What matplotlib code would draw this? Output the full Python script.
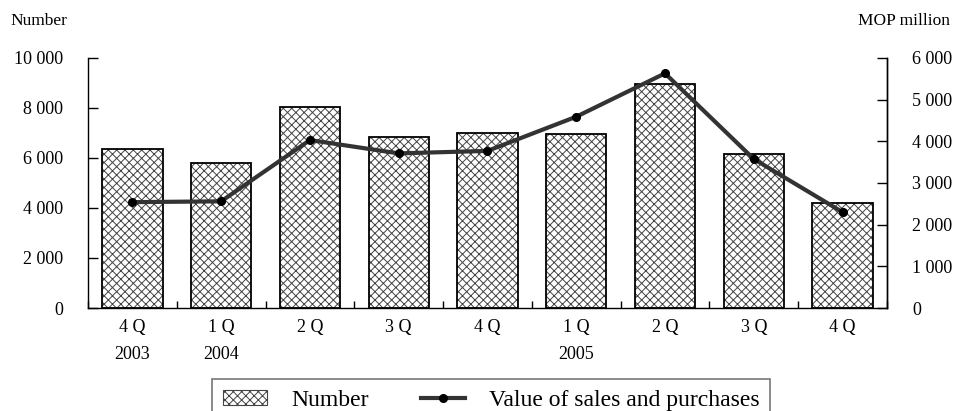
import matplotlib.pyplot as plt
import numpy as np
from matplotlib.patches import Patch
from matplotlib.lines import Line2D

plt.rcParams["font.family"] = ["Liberation Serif", "DejaVu Serif"]
plt.rcParams["hatch.linewidth"] = 0.7

quarters = ["4 Q\n2003", "1 Q\n2004", "2 Q", "3 Q", "4 Q", "1 Q\n2005", "2 Q", "3 Q", "4 Q"]
number = [6350, 5800, 8050, 6850, 7000, 6950, 8950, 6150, 4200]
value_mop = [2540, 2560, 4030, 3710, 3770, 4590, 5630, 3575, 2300]

fig = plt.figure(figsize=(9.63, 4.11), dpi=100)
ax = fig.add_axes([0.0914, 0.2506, 0.8296, 0.6084])
ax2 = ax.twinx()

x = np.arange(len(quarters))

# bars: hatch in grey, outline in black
ax.bar(x, number, width=0.68, color="white", edgecolor="#444444", hatch="xxxx", linewidth=0, zorder=2)
ax.bar(x, number, width=0.68, fill=False, edgecolor="black", linewidth=1.3, zorder=3)

ax2.plot(x, value_mop, color="#333333", linewidth=3, marker="o", markersize=5.5,
         markerfacecolor="black", markeredgecolor="black", zorder=4)

ax.set_xlim(-0.5, len(quarters) - 0.5)
ax.set_ylim(0, 10000)
ax2.set_ylim(0, 6000)

fmt = lambda v: f"{int(v):,}".replace(",", " ")
ax.set_yticks(range(0, 10001, 2000))
ax.set_yticklabels([fmt(v) for v in range(0, 10001, 2000)])
ax2.set_yticks(range(0, 6001, 1000))
ax2.set_yticklabels([fmt(v) for v in range(0, 6001, 1000)])

ax.set_xticks(x)
ax.set_xticklabels(quarters, fontsize=13, linespacing=1.75, va="top")
ax.set_xticks(np.arange(-0.5, len(quarters)), minor=True)
ax.tick_params(axis="x", which="major", length=0, pad=8)
ax.tick_params(axis="x", which="minor", direction="in", length=5, width=1)
ax.tick_params(axis="y", direction="in", length=7, width=1, labelsize=13, pad=18)
ax2.tick_params(axis="y", direction="in", length=7, width=1, labelsize=13, pad=18)

for a in (ax, ax2):
    a.spines["top"].set_visible(False)
    for s in ("left", "right", "bottom"):
        a.spines[s].set_linewidth(1)
ax2.spines["left"].set_visible(False)
ax2.spines["bottom"].set_visible(False)

fig.text(0.011, 0.95, "Number", fontsize=12.5, va="center", ha="left")
fig.text(0.987, 0.95, "MOP million", fontsize=12.5, va="center", ha="right")

handles = [
    Patch(facecolor="white", edgecolor="#444444", hatch="xxxx", linewidth=0.8),
    Line2D([], [], color="#333333", linewidth=3, marker="o", markersize=5.5,
           markerfacecolor="black", markeredgecolor="black"),
]
leg = fig.legend(handles, ["Number", "Value of sales and purchases"], loc="upper center",
                 bbox_to_anchor=(0.51, 0.078), ncol=2, fontsize=17, frameon=True,
                 fancybox=False, borderaxespad=0, handlelength=1.9, handleheight=0.6,
                 columnspacing=2.2, handletextpad=1.0, borderpad=0.45)
leg.get_frame().set_edgecolor("#555555")
leg.get_frame().set_linewidth(1.2)

fig.savefig("out.png", dpi=100)
